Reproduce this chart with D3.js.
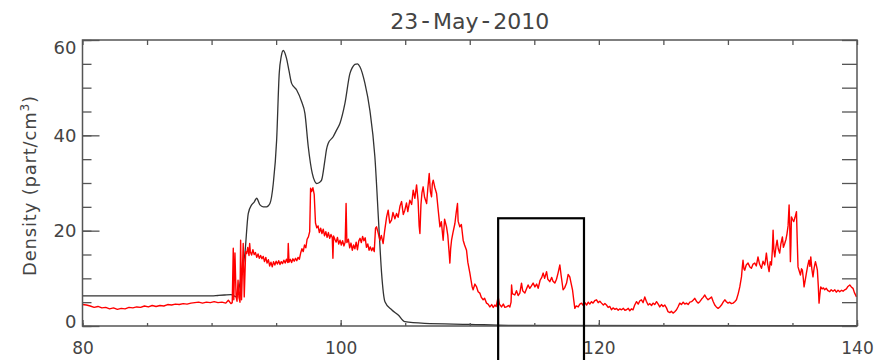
<!DOCTYPE html>
<meta charset="utf-8">
<style>

body {
  margin: 0;
  background: #fff;
}

text {
  font-family: "DejaVu Sans", sans-serif;
  fill: #444;
}

.axis line {
  stroke: #555;
  stroke-width: 1.3;
}

.axis text {
  fill: #444;
}

.frame {
  fill: none;
  stroke: #555;
  stroke-width: 1.5;
}

.model {
  fill: none;
  stroke: #333;
  stroke-width: 1.3;
}

.obs {
  fill: none;
  stroke: #ff0000;
  stroke-width: 1.4;
  stroke-linejoin: round;
}

.box {
  fill: none;
  stroke: #000;
  stroke-width: 2.2;
}

</style>
<body>
<script src="https://d3js.org/d3.v7.min.js"></script>
<script>

var titleParts = ["23", "-", "May", "-", "2010"];
var xTicks = [80, 100, 120, 140];
var yTicks = [0, 20, 40, 60];

// smooth model density (black)
var modelPts = [
  [80, 6.3], [90.0, 6.3], [90.5, 6.4], [91.0, 6.5], [91.5, 6.6], [91.94, 6.1],
  [92.2, 9.0], [92.33, 11.1], [92.58, 15.2], [92.84, 23.6], [93.1, 25.4], [93.3, 26.0],
  [93.49, 26.8], [93.75, 25.4], [94.0, 25.0], [94.26, 25.0], [94.52, 25.7], [94.78, 29.9],
  [95.04, 39.0], [95.24, 53.0], [95.4, 56.6], [95.55, 57.8], [95.8, 56.2], [96.0, 53.5],
  [96.2, 50.9], [96.59, 49.5], [96.97, 47.1], [97.23, 44.6], [97.49, 37.6], [97.8, 32.0],
  [98.0, 30.3], [98.14, 29.9], [98.35, 30.1], [98.52, 30.6], [98.78, 34.8], [98.9, 37.0],
  [99.03, 38.3], [99.42, 39.7], [99.68, 41.1], [99.94, 42.5], [100.33, 46.7], [100.72, 53.0],
  [100.9, 54.2], [101.1, 54.9], [101.3, 55.0], [101.49, 54.4], [101.88, 50.9], [102.26, 45.3],
  [102.65, 35.5], [102.96, 20.8], [103.17, 11.1], [103.43, 5.1], [103.95, 3.4], [104.46, 2.3],
  [104.97, 0.9], [106.5, 0.55], [110, 0.35], [113, 0.15], [140, 0.05]
];

// observed density (red)
var obsPts = [
  [80.0,4.5],[80.3,4.4],[80.6,4.2],[80.9,3.9],[81.2,4.1],[81.5,3.8],[81.8,3.9],[82.1,3.6],[82.4,3.8],[82.7,3.5],
  [83.0,3.7],[83.3,3.6],[83.6,3.9],[83.9,3.8],[84.2,4.0],[84.5,3.9],[84.8,4.2],[85.1,4.0],[85.4,4.3],[85.7,4.1],
  [86.0,4.3],[86.3,4.2],[86.6,4.5],[86.9,4.4],[87.2,4.6],[87.5,4.5],[87.8,4.7],[88.1,4.6],[88.4,4.8],[88.7,4.9],
  [89.0,5.0],[89.3,4.8],[89.6,5.0],[89.9,4.9],[90.2,5.1],[90.5,4.9],[90.8,5.0],[91.1,4.8],[91.3,5.4],[91.5,4.7],[91.6,4.9],
  [91.68,16.3],[91.72,5.5],[91.81,15.3],[91.9,6.1],[91.97,5.2],[92.05,9.6],[92.12,6.0],[92.2,5.0],[92.25,18.0],[92.32,5.5],
  [92.45,17.3],[92.53,6.1],[92.64,15.6],[92.72,15.2],[92.8,16.5],[92.9,14.8],[92.95,17.3],[93.0,15.6],[93.1,14.9],[93.2,16.0],
  [93.3,15.0],[93.4,15.4],[93.5,14.4],[93.6,15.1],[93.7,14.2],[93.8,14.8],[93.9,14.1],[94.0,14.6],[94.1,13.5],[94.2,14.4],
  [94.3,13.2],[94.4,13.9],[94.5,12.6],[94.6,13.4],[94.7,12.4],[94.8,13.5],[94.9,12.8],[95.0,13.6],[95.1,13.0],[95.2,13.7],
  [95.3,12.9],[95.4,13.5],[95.5,13.1],[95.6,13.8],[95.7,13.2],[95.8,14.0],[95.9,13.3],[95.94,17.3],[96.0,13.4],[96.1,14.0],
  [96.2,13.3],[96.3,14.1],[96.4,13.6],[96.5,14.2],[96.6,13.7],[96.7,14.4],[96.8,14.0],[96.9,15.3],[97.0,16.2],[97.1,15.6],
  [97.2,17.0],[97.3,16.4],[97.4,18.2],[97.5,18.7],[97.6,19.8],[97.67,28.9],[97.75,28.2],[97.85,29.0],[97.95,27.6],[98.05,21.6],
  [98.15,20.6],[98.25,21.0],[98.35,19.6],[98.45,20.5],[98.55,19.4],[98.65,20.3],[98.75,18.9],[98.85,19.8],[98.95,18.6],[99.05,19.6],
  [99.15,18.4],[99.25,19.2],[99.35,18.5],[99.4,14.2],[99.45,18.9],[99.55,18.2],[99.65,17.6],[99.75,18.6],[99.85,17.2],[99.95,18.0],
  [100.05,17.0],[100.15,17.9],[100.25,16.8],[100.35,17.6],[100.42,25.7],[100.48,17.5],[100.6,18.2],[100.7,16.4],[100.8,17.4],[100.9,15.9],
  [101.0,17.0],[101.1,16.2],[101.2,17.6],[101.3,16.0],[101.4,17.8],[101.5,18.4],[101.6,17.5],[101.7,18.8],[101.8,17.9],[101.9,18.5],
  [102.0,16.5],[102.1,17.2],[102.2,15.9],[102.3,16.6],[102.4,15.8],[102.5,16.4],[102.6,15.6],[102.7,20.5],[102.78,20.8],[102.9,19.6],
  [103.04,18.0],[103.15,19.0],[103.29,17.3],[103.4,19.8],[103.56,22.9],[103.68,24.3],[103.8,21.6],[103.94,22.2],[104.05,23.8],[104.2,22.5],
  [104.33,23.6],[104.45,22.8],[104.6,25.2],[104.72,26.1],[104.85,23.4],[104.97,24.3],[105.1,25.8],[105.2,24.0],[105.36,26.4],[105.5,25.5],
  [105.62,28.5],[105.75,26.8],[105.88,29.6],[106.0,26.2],[106.08,21.0],[106.14,19.4],[106.22,25.5],[106.3,28.0],[106.39,29.2],[106.5,27.0],
  [106.66,25.7],[106.75,28.8],[106.86,32.0],[106.95,28.2],[107.04,27.1],[107.1,29.8],[107.17,30.6],[107.3,29.0],[107.43,27.8],[107.55,24.5],
  [107.69,20.8],[107.8,21.9],[107.94,18.0],[108.05,22.4],[108.2,20.8],[108.3,19.0],[108.4,15.5],[108.46,13.2],[108.52,16.2],[108.59,18.0],
  [108.7,19.6],[108.85,21.5],[108.95,23.8],[109.05,25.7],[109.1,22.0],[109.23,20.8],[109.35,21.3],[109.49,18.0],[109.6,17.0],[109.75,15.9],
  [109.85,13.4],[110.01,11.1],[110.1,9.6],[110.18,8.3],[110.26,7.6],[110.4,8.8],[110.53,8.2],[110.65,7.2],[110.78,6.9],[110.9,6.0],
  [111.04,5.5],[111.15,5.8],[111.3,4.8],[111.42,4.6],[111.56,4.0],[111.7,4.5],[111.82,3.9],[111.94,4.4],[112.05,4.1],[112.2,6.1],
  [112.3,4.6],[112.46,4.0],[112.6,4.6],[112.72,3.9],[112.85,4.0],[113.0,4.3],[113.11,4.0],[113.2,5.0],[113.24,8.6],[113.3,6.8],
  [113.49,6.5],[113.62,7.4],[113.75,6.4],[113.88,6.9],[114.01,9.0],[114.1,7.4],[114.27,6.9],[114.4,7.8],[114.52,8.6],[114.65,7.9],
  [114.78,8.4],[114.91,9.0],[115.05,8.2],[115.18,8.8],[115.3,7.9],[115.45,9.6],[115.58,10.2],[115.69,11.1],[115.8,10.0],[115.95,11.4],
  [116.05,9.8],[116.2,9.3],[116.35,10.2],[116.45,9.4],[116.59,9.0],[116.72,9.8],[116.85,11.2],[116.98,12.8],[117.08,10.6],[117.23,7.6],
  [117.35,8.0],[117.5,9.0],[117.62,10.8],[117.75,10.3],[117.85,9.0],[117.96,7.6],[118.05,5.6],[118.14,3.7],[118.25,4.2],[118.4,4.0],
  [118.53,4.6],[118.66,4.8],[118.8,4.3],[118.92,4.9],[119.05,4.4],[119.18,5.0],[119.3,4.6],[119.43,5.1],[119.55,4.8],[119.68,5.3],
  [119.82,5.5],[119.95,4.9],[120.08,5.2],[120.21,4.8],[120.35,4.4],[120.47,4.7],[120.59,4.4],[120.72,3.9],[120.85,4.1],[120.98,3.4],
  [121.1,3.8],[121.25,3.5],[121.37,3.7],[121.5,3.3],[121.63,3.6],[121.76,3.4],[121.9,3.7],[122.02,3.3],[122.14,3.4],[122.28,3.7],
  [122.4,3.2],[122.52,3.6],[122.65,3.4],[122.78,4.4],[122.92,5.1],[123.05,4.6],[123.18,5.3],[123.3,5.5],[123.43,4.9],[123.56,6.1],
  [123.68,5.2],[123.82,4.4],[123.95,4.7],[124.08,4.3],[124.2,4.8],[124.33,4.5],[124.47,5.1],[124.6,4.6],[124.72,4.0],[124.85,4.5],
  [124.98,4.1],[125.11,4.4],[125.24,3.8],[125.36,3.0],[125.5,2.8],[125.62,3.1],[125.75,2.7],[125.88,3.0],[126.02,3.4],[126.15,4.1],
  [126.27,4.8],[126.4,4.5],[126.53,5.0],[126.66,4.6],[126.79,4.8],[126.92,4.5],[127.05,5.0],[127.18,5.1],[127.3,5.4],[127.43,5.8],
  [127.56,5.2],[127.69,4.8],[127.82,5.1],[127.95,5.6],[128.08,6.0],[128.21,6.5],[128.33,5.9],[128.46,5.5],[128.6,5.8],[128.73,6.1],
  [128.85,5.2],[128.98,4.4],[129.1,4.0],[129.24,3.7],[129.37,4.0],[129.5,4.4],[129.63,5.0],[129.76,5.5],[129.88,5.1],[130.01,4.8],
  [130.14,5.0],[130.27,4.7],[130.4,4.8],[130.53,5.1],[130.66,5.5],[130.8,6.8],[130.92,8.2],[131.05,10.3],[131.12,12.5],[131.17,13.8],
  [131.24,12.0],[131.3,11.7],[131.42,12.8],[131.56,13.2],[131.7,12.4],[131.82,12.1],[131.95,13.0],[132.08,13.2],[132.2,12.6],[132.33,14.5],
  [132.45,13.0],[132.6,12.1],[132.72,13.6],[132.85,12.8],[132.92,14.0],[132.98,15.3],[133.08,13.0],[133.19,11.4],[133.28,13.5],[133.37,12.8],
  [133.44,15.8],[133.5,20.1],[133.56,16.0],[133.63,14.5],[133.72,16.6],[133.81,18.0],[133.9,16.2],[134.01,15.3],[134.1,17.2],[134.22,18.7],
  [134.3,16.5],[134.4,17.3],[134.5,18.2],[134.58,19.4],[134.66,21.0],[134.74,25.4],[134.79,21.0],[134.84,13.5],[134.88,17.0],[134.92,22.9],
  [135.0,22.4],[135.1,21.9],[135.2,22.8],[135.31,24.0],[135.37,18.0],[135.43,12.4],[135.52,11.6],[135.62,10.7],[135.7,12.0],[135.77,11.7],
  [135.84,10.0],[135.9,8.2],[136.0,9.8],[136.08,11.1],[136.18,12.6],[136.28,13.8],[136.35,12.5],[136.42,14.5],[136.5,12.0],[136.59,10.3],
  [136.68,12.2],[136.78,13.5],[136.86,12.6],[136.93,11.7],[137.0,8.5],[137.06,4.8],[137.12,6.5],[137.19,8.2],[137.3,7.8],[137.4,8.0],
  [137.5,7.6],[137.62,7.9],[137.75,7.4],[137.89,7.2],[138.0,7.6],[138.14,7.3],[138.28,7.6],[138.4,7.1],[138.53,7.5],[138.66,7.2],
  [138.8,7.5],[138.92,7.3],[139.05,7.6],[139.18,7.8],[139.3,8.3],[139.44,8.6],[139.56,8.2],[139.69,7.9],[139.8,7.0],[139.96,6.1]
];

// highlighted interval
var boxTimes = [112.2, 118.85];
var boxDens = [-8, 22.6];

var margin = {top: 40, right: 20, bottom: 34, left: 82.5},
    width = 877 - margin.left - margin.right,
    height = 360 - margin.top - margin.bottom;

var x = d3.scaleLinear().domain([80, 140]).range([0, width]);
var y = d3.scaleLinear().domain([0, 60]).range([height, 0]);

var svg = d3.select("body").append("svg")
    .attr("width", 877)
    .attr("height", 360)
  .append("g")
    .attr("transform", "translate(" + margin.left + "," + margin.top + ")");

var line = d3.line()
    .x(function(d) { return x(d[0]); })
    .y(function(d) { return y(d[1]); });

svg.append("path")
    .datum(modelPts)
    .attr("class", "model")
    .attr("d", line.curve(d3.curveMonotoneX));

svg.append("path")
    .datum(obsPts)
    .attr("class", "obs")
    .attr("d", line.curve(d3.curveLinear));

// axes: ticks point inward like the IDL plot
function noDomain(g) { g.select(".domain").remove(); }

svg.append("g")
    .attr("class", "axis")
    .call(d3.axisLeft(y).tickValues(d3.range(0, 61, 5)).tickSize(-9).tickFormat(""))
    .call(noDomain);

svg.append("g")
    .attr("class", "axis yaxis")
    .call(d3.axisLeft(y).tickValues(yTicks).tickSize(-17).tickPadding(6))
    .call(noDomain)
    .selectAll("text")
      .style("font-size", "18px")
      .attr("y", function(d) { return Math.min(Math.max(y(d), 8), height - 4) - y(d); });

svg.append("g")
    .attr("class", "axis")
    .attr("transform", "translate(" + width + ",0)")
    .call(d3.axisRight(y).tickValues(d3.range(0, 61, 5)).tickSize(-15).tickFormat(""))
    .call(noDomain);

svg.append("g")
    .attr("class", "axis")
    .call(d3.axisTop(x).tickValues(d3.range(80, 141, 5)).tickSize(-5).tickFormat(""))
    .call(noDomain);

svg.append("g")
    .attr("class", "axis")
    .attr("transform", "translate(0," + height + ")")
    .call(d3.axisBottom(x).tickValues(d3.range(80, 141, 5)).tickSize(-3).tickFormat(""))
    .call(noDomain);

svg.append("g")
    .attr("class", "axis")
    .attr("transform", "translate(0," + height + ")")
    .call(d3.axisBottom(x).tickValues(xTicks).tickSize(-6).tickPadding(16))
    .call(noDomain)
    .selectAll("text")
      .style("font-size", "17px");

svg.append("rect")
    .attr("class", "frame")
    .attr("x", 0)
    .attr("y", 0)
    .attr("width", width)
    .attr("height", height);

svg.append("rect")
    .attr("class", "box")
    .attr("x", x(boxTimes[0]))
    .attr("y", y(boxDens[1]))
    .attr("width", x(boxTimes[1]) - x(boxTimes[0]))
    .attr("height", y(boxDens[0]) - y(boxDens[1]));

// title: the plot font draws wide dashes, so pad around them
var title = svg.append("text")
    .attr("x", width / 2)
    .attr("y", -11)
    .style("text-anchor", "middle")
    .style("font-size", "22px");
title.selectAll("tspan")
    .data(titleParts)
  .enter().append("tspan")
    .attr("dx", function(d, i) { return i > 0 ? 3 : 0; })
    .style("font-size", function(d) { return d === "-" ? "24px" : null; })
    .text(function(d) { return d; });

var ylab = svg.append("text")
    .attr("transform", "translate(-47," + (height / 2 + 3) + ") rotate(-90)")
    .style("text-anchor", "middle")
    .style("font-size", "18px")
    .attr("textLength", 180)
    .attr("lengthAdjust", "spacing");
ylab.append("tspan").text("Density (part/cm");
ylab.append("tspan").attr("dy", -7).style("font-size", "12px").text("3");
ylab.append("tspan").attr("dy", 7).text(")");

</script>
